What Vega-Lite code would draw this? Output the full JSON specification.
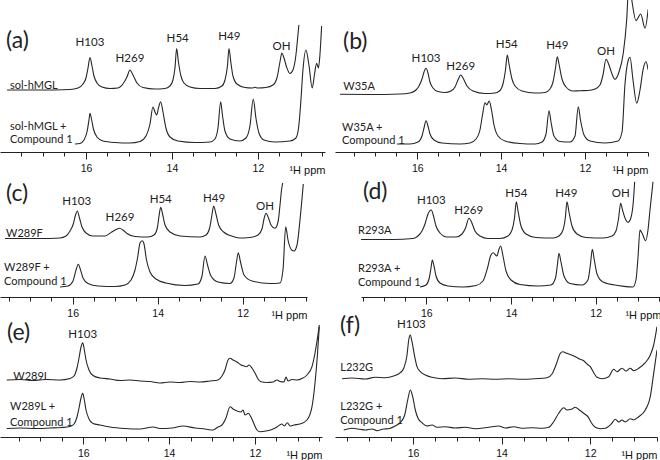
{
"$schema": "https://vega.github.io/schema/vega-lite/v6.json",
"padding": 0,
"background": "white",
"config": {"view": {"stroke": null}, "axis": {"domain": true, "domainColor": "#222", "domainWidth": 1, "ticks": true, "tickColor": "#222", "tickWidth": 1, "labels": true, "labelColor": "#111", "labelFont": "Liberation Sans", "labelFontSize": 10.5, "titleFont": "Liberation Sans", "titleFontSize": 11, "titleFontWeight": "normal", "titleColor": "#111", "grid": false, "zindex": 1}},
"datasets": {
"a": [
{"s":"t","x":17.837,"y":62},{"s":"t","x":17.07,"y":62},{"s":"t","x":16.37,"y":62.5},{"s":"t","x":16.186,"y":64},{"s":"t","x":16.07,"y":68},{"s":"t","x":16.0,"y":74},{"s":"t","x":15.953,"y":84},{"s":"t","x":15.907,"y":94.5},{"s":"t","x":15.86,"y":86},{"s":"t","x":15.814,"y":76},{"s":"t","x":15.744,"y":69},{"s":"t","x":15.628,"y":65},{"s":"t","x":15.442,"y":63.5},{"s":"t","x":15.256,"y":64},{"s":"t","x":15.14,"y":68},{"s":"t","x":15.047,"y":75},{"s":"t","x":14.977,"y":82},{"s":"t","x":14.907,"y":77},{"s":"t","x":14.814,"y":69},{"s":"t","x":14.674,"y":64.5},{"s":"t","x":14.395,"y":63},{"s":"t","x":14.163,"y":63.5},{"s":"t","x":14.047,"y":66},{"s":"t","x":13.977,"y":72},{"s":"t","x":13.93,"y":84},{"s":"t","x":13.891,"y":103.5},{"s":"t","x":13.849,"y":90},{"s":"t","x":13.791,"y":76},{"s":"t","x":13.721,"y":69},{"s":"t","x":13.581,"y":65},{"s":"t","x":13.349,"y":63.5},{"s":"t","x":13.0,"y":63.5},{"s":"t","x":12.837,"y":66},{"s":"t","x":12.767,"y":72},{"s":"t","x":12.709,"y":86},{"s":"t","x":12.674,"y":103.5},{"s":"t","x":12.628,"y":89},{"s":"t","x":12.581,"y":76},{"s":"t","x":12.488,"y":68},{"s":"t","x":12.302,"y":64.5},{"s":"t","x":12.14,"y":64},{"s":"t","x":12.07,"y":64.7},{"s":"t","x":12.0,"y":64},{"s":"t","x":11.814,"y":64.5},{"s":"t","x":11.651,"y":67},{"s":"t","x":11.558,"y":74},{"s":"t","x":11.488,"y":90},{"s":"t","x":11.442,"y":99},{"s":"t","x":11.395,"y":94},{"s":"t","x":11.326,"y":84},{"s":"t","x":11.256,"y":78.5},{"s":"t","x":11.186,"y":82},{"s":"t","x":11.116,"y":97},{"s":"t","x":11.07,"y":117},{"s":"t","x":11.047,"y":127},
{"s":"b","x":16.256,"y":8},{"s":"b","x":16.14,"y":8.5},{"s":"b","x":16.047,"y":12},{"s":"b","x":15.977,"y":20},{"s":"b","x":15.93,"y":32},{"s":"b","x":15.907,"y":38.7},{"s":"b","x":15.872,"y":33},{"s":"b","x":15.826,"y":23},{"s":"b","x":15.744,"y":15},{"s":"b","x":15.605,"y":11},{"s":"b","x":15.326,"y":9.5},{"s":"b","x":14.977,"y":9},{"s":"b","x":14.744,"y":10.5},{"s":"b","x":14.605,"y":16},{"s":"b","x":14.512,"y":28},{"s":"b","x":14.442,"y":45},{"s":"b","x":14.395,"y":40},{"s":"b","x":14.356,"y":37},{"s":"b","x":14.314,"y":44},{"s":"b","x":14.263,"y":50.3},{"s":"b","x":14.209,"y":40},{"s":"b","x":14.14,"y":24},{"s":"b","x":14.047,"y":15},{"s":"b","x":13.86,"y":11},{"s":"b","x":13.465,"y":9.5},{"s":"b","x":13.116,"y":10},{"s":"b","x":13.0,"y":13},{"s":"b","x":12.93,"y":24},{"s":"b","x":12.867,"y":50.3},{"s":"b","x":12.826,"y":37},{"s":"b","x":12.767,"y":21},{"s":"b","x":12.651,"y":13},{"s":"b","x":12.419,"y":11},{"s":"b","x":12.279,"y":14},{"s":"b","x":12.186,"y":26},{"s":"b","x":12.109,"y":53},{"s":"b","x":12.047,"y":34},{"s":"b","x":11.977,"y":19},{"s":"b","x":11.86,"y":12},{"s":"b","x":11.605,"y":10},{"s":"b","x":11.256,"y":11},{"s":"b","x":11.116,"y":14},{"s":"b","x":11.047,"y":27},{"s":"b","x":11.0,"y":52},{"s":"b","x":10.953,"y":82},{"s":"b","x":10.884,"y":102},{"s":"b","x":10.814,"y":87},{"s":"b","x":10.737,"y":64},{"s":"b","x":10.686,"y":77},{"s":"b","x":10.635,"y":88.7},{"s":"b","x":10.593,"y":84},{"s":"b","x":10.558,"y":97},{"s":"b","x":10.519,"y":126}
],
"b": [
{"s":"t","x":17.845,"y":57.7},{"s":"t","x":17.129,"y":57.5},{"s":"t","x":16.413,"y":58},{"s":"t","x":16.174,"y":59},{"s":"t","x":16.031,"y":62},{"s":"t","x":15.959,"y":66},{"s":"t","x":15.888,"y":73},{"s":"t","x":15.84,"y":80},{"s":"t","x":15.792,"y":83.7},{"s":"t","x":15.745,"y":79},{"s":"t","x":15.697,"y":70},{"s":"t","x":15.625,"y":64},{"s":"t","x":15.506,"y":60.5},{"s":"t","x":15.339,"y":59.5},{"s":"t","x":15.196,"y":61},{"s":"t","x":15.1,"y":65},{"s":"t","x":15.029,"y":72},{"s":"t","x":14.964,"y":77},{"s":"t","x":14.909,"y":74},{"s":"t","x":14.814,"y":66},{"s":"t","x":14.671,"y":61},{"s":"t","x":14.384,"y":58.5},{"s":"t","x":14.146,"y":59},{"s":"t","x":14.026,"y":61.5},{"s":"t","x":13.955,"y":68},{"s":"t","x":13.895,"y":82},{"s":"t","x":13.852,"y":97},{"s":"t","x":13.811,"y":88},{"s":"t","x":13.74,"y":73},{"s":"t","x":13.668,"y":66},{"s":"t","x":13.501,"y":61},{"s":"t","x":13.19,"y":59},{"s":"t","x":12.952,"y":59.5},{"s":"t","x":12.833,"y":63},{"s":"t","x":12.761,"y":70},{"s":"t","x":12.702,"y":84},{"s":"t","x":12.659,"y":95.3},{"s":"t","x":12.618,"y":88},{"s":"t","x":12.547,"y":73},{"s":"t","x":12.451,"y":65},{"s":"t","x":12.284,"y":61},{"s":"t","x":12.117,"y":61.3},{"s":"t","x":11.926,"y":61.5},{"s":"t","x":11.759,"y":63},{"s":"t","x":11.64,"y":67},{"s":"t","x":11.568,"y":77},{"s":"t","x":11.496,"y":92.7},{"s":"t","x":11.425,"y":87},{"s":"t","x":11.353,"y":78},{"s":"t","x":11.282,"y":72.7},{"s":"t","x":11.186,"y":80},{"s":"t","x":11.084,"y":98.7},{"s":"t","x":11.003,"y":132},{"s":"t","x":10.962,"y":160},{"s":"t","x":10.909,"y":160},{"s":"t","x":10.874,"y":150},{"s":"t","x":10.78,"y":131.3},{"s":"t","x":10.668,"y":138},{"s":"t","x":10.565,"y":123.7},{"s":"t","x":10.49,"y":142.7},
{"s":"b","x":16.484,"y":8},{"s":"b","x":16.174,"y":8},{"s":"b","x":15.983,"y":10},{"s":"b","x":15.888,"y":16},{"s":"b","x":15.84,"y":24},{"s":"b","x":15.792,"y":31.3},{"s":"b","x":15.745,"y":26},{"s":"b","x":15.697,"y":18},{"s":"b","x":15.601,"y":12},{"s":"b","x":15.41,"y":9},{"s":"b","x":14.981,"y":8},{"s":"b","x":14.742,"y":9},{"s":"b","x":14.599,"y":13},{"s":"b","x":14.504,"y":22},{"s":"b","x":14.444,"y":37},{"s":"b","x":14.384,"y":49.3},{"s":"b","x":14.344,"y":47},{"s":"b","x":14.282,"y":51},{"s":"b","x":14.229,"y":42},{"s":"b","x":14.169,"y":27},{"s":"b","x":14.074,"y":16},{"s":"b","x":13.907,"y":11},{"s":"b","x":13.549,"y":8.5},{"s":"b","x":13.19,"y":8},{"s":"b","x":13.023,"y":10},{"s":"b","x":12.928,"y":18},{"s":"b","x":12.856,"y":41.3},{"s":"b","x":12.809,"y":30},{"s":"b","x":12.737,"y":16},{"s":"b","x":12.594,"y":10.5},{"s":"b","x":12.356,"y":10},{"s":"b","x":12.236,"y":16},{"s":"b","x":12.158,"y":45.3},{"s":"b","x":12.105,"y":32},{"s":"b","x":12.021,"y":17},{"s":"b","x":11.878,"y":11},{"s":"b","x":11.52,"y":9},{"s":"b","x":11.209,"y":11},{"s":"b","x":11.114,"y":20},{"s":"b","x":11.042,"y":68.7},{"s":"b","x":10.963,"y":92},{"s":"b","x":10.923,"y":94.7},{"s":"b","x":10.852,"y":72},{"s":"b","x":10.763,"y":48.7},{"s":"b","x":10.685,"y":62},{"s":"b","x":10.606,"y":83.7},{"s":"b","x":10.542,"y":90.3},{"s":"b","x":10.49,"y":82}
],
"c": [
{"s":"t","x":17.593,"y":58.5},{"s":"t","x":16.769,"y":58.5},{"s":"t","x":16.299,"y":59},{"s":"t","x":16.158,"y":61},{"s":"t","x":16.064,"y":66},{"s":"t","x":15.986,"y":73},{"s":"t","x":15.934,"y":82},{"s":"t","x":15.892,"y":86},{"s":"t","x":15.84,"y":79},{"s":"t","x":15.781,"y":70},{"s":"t","x":15.687,"y":64},{"s":"t","x":15.522,"y":61},{"s":"t","x":15.24,"y":61},{"s":"t","x":15.082,"y":65},{"s":"t","x":14.981,"y":67.5},{"s":"t","x":14.904,"y":68.7},{"s":"t","x":14.816,"y":67},{"s":"t","x":14.722,"y":63.5},{"s":"t","x":14.534,"y":60.5},{"s":"t","x":14.228,"y":60},{"s":"t","x":14.087,"y":62},{"s":"t","x":14.009,"y":69},{"s":"t","x":13.969,"y":81},{"s":"t","x":13.929,"y":89.7},{"s":"t","x":13.886,"y":83},{"s":"t","x":13.828,"y":72},{"s":"t","x":13.711,"y":65},{"s":"t","x":13.475,"y":61},{"s":"t","x":13.005,"y":60},{"s":"t","x":12.864,"y":62},{"s":"t","x":12.778,"y":69},{"s":"t","x":12.731,"y":80},{"s":"t","x":12.684,"y":91},{"s":"t","x":12.635,"y":84},{"s":"t","x":12.567,"y":72},{"s":"t","x":12.449,"y":65},{"s":"t","x":12.261,"y":61},{"s":"t","x":12.073,"y":59},{"s":"t","x":11.838,"y":59.5},{"s":"t","x":11.64,"y":62},{"s":"t","x":11.546,"y":68},{"s":"t","x":11.499,"y":78},{"s":"t","x":11.452,"y":83.7},{"s":"t","x":11.393,"y":79},{"s":"t","x":11.334,"y":72},{"s":"t","x":11.24,"y":68.7},{"s":"t","x":11.169,"y":75},{"s":"t","x":11.122,"y":92},{"s":"t","x":11.087,"y":107},{"s":"t","x":11.059,"y":114},
{"s":"b","x":16.299,"y":10},{"s":"b","x":16.111,"y":11},{"s":"b","x":15.993,"y":16},{"s":"b","x":15.922,"y":27},{"s":"b","x":15.868,"y":32.7},{"s":"b","x":15.816,"y":27},{"s":"b","x":15.758,"y":19},{"s":"b","x":15.64,"y":13.5},{"s":"b","x":15.405,"y":11},{"s":"b","x":15.005,"y":10.5},{"s":"b","x":14.769,"y":12},{"s":"b","x":14.628,"y":17},{"s":"b","x":14.534,"y":27},{"s":"b","x":14.475,"y":39},{"s":"b","x":14.416,"y":54},{"s":"b","x":14.362,"y":56.3},{"s":"b","x":14.322,"y":53},{"s":"b","x":14.264,"y":37},{"s":"b","x":14.181,"y":25},{"s":"b","x":14.04,"y":18},{"s":"b","x":13.805,"y":14},{"s":"b","x":13.358,"y":11.5},{"s":"b","x":13.052,"y":13},{"s":"b","x":12.958,"y":21},{"s":"b","x":12.887,"y":41},{"s":"b","x":12.828,"y":32},{"s":"b","x":12.746,"y":21},{"s":"b","x":12.581,"y":15},{"s":"b","x":12.299,"y":13.5},{"s":"b","x":12.205,"y":19},{"s":"b","x":12.146,"y":35},{"s":"b","x":12.104,"y":44.3},{"s":"b","x":12.052,"y":35},{"s":"b","x":11.969,"y":22},{"s":"b","x":11.781,"y":16},{"s":"b","x":11.358,"y":13.5},{"s":"b","x":11.122,"y":14},{"s":"b","x":11.052,"y":27},{"s":"b","x":10.988,"y":70.3},{"s":"b","x":10.934,"y":57},{"s":"b","x":10.847,"y":47},{"s":"b","x":10.793,"y":46},{"s":"b","x":10.722,"y":52},{"s":"b","x":10.652,"y":77},{"s":"b","x":10.574,"y":113}
],
"d": [
{"s":"t","x":17.542,"y":57.5},{"s":"t","x":16.786,"y":57.5},{"s":"t","x":16.314,"y":58.5},{"s":"t","x":16.196,"y":61},{"s":"t","x":16.102,"y":66},{"s":"t","x":16.031,"y":73},{"s":"t","x":15.96,"y":83},{"s":"t","x":15.882,"y":87},{"s":"t","x":15.83,"y":81},{"s":"t","x":15.771,"y":71},{"s":"t","x":15.677,"y":64},{"s":"t","x":15.511,"y":60},{"s":"t","x":15.299,"y":60},{"s":"t","x":15.157,"y":63},{"s":"t","x":15.074,"y":69},{"s":"t","x":14.992,"y":78.7},{"s":"t","x":14.933,"y":75},{"s":"t","x":14.85,"y":66},{"s":"t","x":14.732,"y":61},{"s":"t","x":14.543,"y":58.5},{"s":"t","x":14.26,"y":58.5},{"s":"t","x":14.071,"y":61},{"s":"t","x":13.976,"y":67},{"s":"t","x":13.917,"y":79},{"s":"t","x":13.875,"y":95.3},{"s":"t","x":13.83,"y":85},{"s":"t","x":13.764,"y":71},{"s":"t","x":13.646,"y":63},{"s":"t","x":13.41,"y":59.5},{"s":"t","x":13.008,"y":59},{"s":"t","x":12.867,"y":61},{"s":"t","x":12.772,"y":67},{"s":"t","x":12.718,"y":79},{"s":"t","x":12.678,"y":95.3},{"s":"t","x":12.631,"y":85},{"s":"t","x":12.56,"y":71},{"s":"t","x":12.442,"y":63},{"s":"t","x":12.229,"y":59.5},{"s":"t","x":11.828,"y":59},{"s":"t","x":11.615,"y":61},{"s":"t","x":11.521,"y":66},{"s":"t","x":11.462,"y":78},{"s":"t","x":11.41,"y":93.7},{"s":"t","x":11.367,"y":87},{"s":"t","x":11.308,"y":79},{"s":"t","x":11.237,"y":74.7},{"s":"t","x":11.178,"y":78},{"s":"t","x":11.119,"y":92},{"s":"t","x":11.079,"y":115.3},
{"s":"b","x":16.149,"y":10},{"s":"b","x":16.007,"y":12},{"s":"b","x":15.936,"y":18},{"s":"b","x":15.889,"y":29},{"s":"b","x":15.858,"y":37},{"s":"b","x":15.818,"y":31},{"s":"b","x":15.771,"y":21},{"s":"b","x":15.677,"y":14},{"s":"b","x":15.488,"y":11},{"s":"b","x":15.134,"y":10},{"s":"b","x":14.827,"y":11.5},{"s":"b","x":14.661,"y":16},{"s":"b","x":14.555,"y":29},{"s":"b","x":14.484,"y":41},{"s":"b","x":14.425,"y":44.3},{"s":"b","x":14.331,"y":41},{"s":"b","x":14.283,"y":48},{"s":"b","x":14.243,"y":51},{"s":"b","x":14.189,"y":41},{"s":"b","x":14.118,"y":26},{"s":"b","x":14.0,"y":17},{"s":"b","x":13.788,"y":12.5},{"s":"b","x":13.362,"y":11},{"s":"b","x":13.056,"y":12},{"s":"b","x":12.949,"y":19},{"s":"b","x":12.902,"y":33},{"s":"b","x":12.867,"y":43.7},{"s":"b","x":12.82,"y":35},{"s":"b","x":12.749,"y":21},{"s":"b","x":12.607,"y":13.5},{"s":"b","x":12.324,"y":12},{"s":"b","x":12.183,"y":17},{"s":"b","x":12.123,"y":33},{"s":"b","x":12.08,"y":47.7},{"s":"b","x":12.033,"y":37},{"s":"b","x":11.969,"y":23},{"s":"b","x":11.828,"y":15},{"s":"b","x":11.474,"y":11.5},{"s":"b","x":11.12,"y":10},{"s":"b","x":11.049,"y":17},{"s":"b","x":11.002,"y":39},{"s":"b","x":10.954,"y":67},{"s":"b","x":10.907,"y":64},{"s":"b","x":10.82,"y":56.3},{"s":"b","x":10.765,"y":67},{"s":"b","x":10.718,"y":87},{"s":"b","x":10.647,"y":115.3}
],
"e": [
{"s":"t","x":17.786,"y":57},{"s":"t","x":17.476,"y":57.5},{"s":"t","x":17.172,"y":56.5},{"s":"t","x":16.869,"y":57.5},{"s":"t","x":16.543,"y":57},{"s":"t","x":16.31,"y":58.5},{"s":"t","x":16.217,"y":61},{"s":"t","x":16.147,"y":69},{"s":"t","x":16.1,"y":79},{"s":"t","x":16.054,"y":90},{"s":"t","x":16.014,"y":94.3},{"s":"t","x":15.984,"y":89},{"s":"t","x":15.937,"y":77},{"s":"t","x":15.867,"y":67},{"s":"t","x":15.774,"y":61.5},{"s":"t","x":15.611,"y":59},{"s":"t","x":15.378,"y":58},{"s":"t","x":15.145,"y":56.5},{"s":"t","x":14.911,"y":57},{"s":"t","x":14.678,"y":56},{"s":"t","x":14.445,"y":55.5},{"s":"t","x":14.212,"y":54},{"s":"t","x":13.979,"y":55},{"s":"t","x":13.746,"y":54.5},{"s":"t","x":13.513,"y":55.5},{"s":"t","x":13.28,"y":55},{"s":"t","x":13.047,"y":56},{"s":"t","x":12.86,"y":57},{"s":"t","x":12.767,"y":61},{"s":"t","x":12.697,"y":67},{"s":"t","x":12.627,"y":77},{"s":"t","x":12.58,"y":78.7},{"s":"t","x":12.51,"y":77},{"s":"t","x":12.417,"y":75},{"s":"t","x":12.324,"y":72},{"s":"t","x":12.254,"y":71},{"s":"t","x":12.191,"y":70.3},{"s":"t","x":12.138,"y":72},{"s":"t","x":12.068,"y":69},{"s":"t","x":11.998,"y":64},{"s":"t","x":11.928,"y":58},{"s":"t","x":11.858,"y":55.3},{"s":"t","x":11.718,"y":54.5},{"s":"t","x":11.579,"y":55},{"s":"t","x":11.485,"y":57},{"s":"t","x":11.415,"y":55.5},{"s":"t","x":11.322,"y":55},{"s":"t","x":11.276,"y":60},{"s":"t","x":11.229,"y":56},{"s":"t","x":11.136,"y":57.5},{"s":"t","x":11.019,"y":57},{"s":"t","x":10.903,"y":58.5},{"s":"t","x":10.786,"y":62},{"s":"t","x":10.669,"y":70.3},{"s":"t","x":10.599,"y":84},{"s":"t","x":10.536,"y":100.3},{"s":"t","x":10.499,"y":112},
{"s":"b","x":17.786,"y":8.5},{"s":"b","x":17.476,"y":9},{"s":"b","x":17.126,"y":8.5},{"s":"b","x":16.776,"y":9},{"s":"b","x":16.497,"y":9.5},{"s":"b","x":16.31,"y":10.5},{"s":"b","x":16.217,"y":13},{"s":"b","x":16.147,"y":20},{"s":"b","x":16.1,"y":29},{"s":"b","x":16.054,"y":39},{"s":"b","x":16.014,"y":43.7},{"s":"b","x":15.984,"y":39},{"s":"b","x":15.937,"y":27},{"s":"b","x":15.867,"y":18},{"s":"b","x":15.774,"y":13.5},{"s":"b","x":15.611,"y":12},{"s":"b","x":15.378,"y":10},{"s":"b","x":15.028,"y":8.5},{"s":"b","x":14.678,"y":8},{"s":"b","x":14.375,"y":10},{"s":"b","x":14.212,"y":8.5},{"s":"b","x":13.932,"y":9},{"s":"b","x":13.676,"y":11},{"s":"b","x":13.396,"y":9},{"s":"b","x":13.163,"y":8},{"s":"b","x":12.976,"y":7},{"s":"b","x":12.86,"y":10},{"s":"b","x":12.767,"y":12},{"s":"b","x":12.674,"y":19},{"s":"b","x":12.58,"y":30.3},{"s":"b","x":12.51,"y":28},{"s":"b","x":12.417,"y":26},{"s":"b","x":12.324,"y":25},{"s":"b","x":12.277,"y":27},{"s":"b","x":12.231,"y":22},{"s":"b","x":12.154,"y":23.7},{"s":"b","x":12.091,"y":20},{"s":"b","x":12.021,"y":13},{"s":"b","x":11.951,"y":7},{"s":"b","x":11.881,"y":5.3},{"s":"b","x":11.741,"y":6},{"s":"b","x":11.601,"y":7.5},{"s":"b","x":11.485,"y":10},{"s":"b","x":11.375,"y":13},{"s":"b","x":11.31,"y":11},{"s":"b","x":11.245,"y":14.3},{"s":"b","x":11.182,"y":11},{"s":"b","x":11.089,"y":12},{"s":"b","x":10.949,"y":13},{"s":"b","x":10.786,"y":17},{"s":"b","x":10.669,"y":30.3},{"s":"b","x":10.599,"y":54},{"s":"b","x":10.546,"y":80.3},{"s":"b","x":10.499,"y":110.3}
],
"f": [
{"s":"t","x":17.603,"y":58.3},{"s":"t","x":17.377,"y":59},{"s":"t","x":17.077,"y":58},{"s":"t","x":16.851,"y":59.7},{"s":"t","x":16.625,"y":59.3},{"s":"t","x":16.436,"y":61},{"s":"t","x":16.287,"y":64.3},{"s":"t","x":16.21,"y":68.7},{"s":"t","x":16.135,"y":82},{"s":"t","x":16.097,"y":97},{"s":"t","x":16.061,"y":102},{"s":"t","x":16.023,"y":95.3},{"s":"t","x":15.962,"y":80.3},{"s":"t","x":15.91,"y":70.3},{"s":"t","x":15.835,"y":65.3},{"s":"t","x":15.722,"y":62},{"s":"t","x":15.571,"y":59.7},{"s":"t","x":15.345,"y":58.3},{"s":"t","x":15.045,"y":59},{"s":"t","x":14.743,"y":57.7},{"s":"t","x":14.442,"y":58.3},{"s":"t","x":14.142,"y":57.7},{"s":"t","x":13.84,"y":58.3},{"s":"t","x":13.539,"y":57.7},{"s":"t","x":13.239,"y":58.3},{"s":"t","x":12.975,"y":59.3},{"s":"t","x":12.862,"y":63},{"s":"t","x":12.772,"y":72},{"s":"t","x":12.675,"y":83.7},{"s":"t","x":12.621,"y":85.3},{"s":"t","x":12.524,"y":83.7},{"s":"t","x":12.411,"y":81.7},{"s":"t","x":12.314,"y":79.7},{"s":"t","x":12.223,"y":77.7},{"s":"t","x":12.147,"y":76.3},{"s":"t","x":12.072,"y":73},{"s":"t","x":11.998,"y":70.3},{"s":"t","x":11.921,"y":64.3},{"s":"t","x":11.847,"y":59.7},{"s":"t","x":11.734,"y":58.3},{"s":"t","x":11.582,"y":60.3},{"s":"t","x":11.47,"y":67.7},{"s":"t","x":11.395,"y":65.3},{"s":"t","x":11.282,"y":68.7},{"s":"t","x":11.192,"y":66},{"s":"t","x":11.095,"y":68.7},{"s":"t","x":11.018,"y":66.3},{"s":"t","x":10.905,"y":68.7},{"s":"t","x":10.756,"y":74.3},{"s":"t","x":10.643,"y":82},{"s":"t","x":10.567,"y":92},{"s":"t","x":10.492,"y":110.3},
{"s":"b","x":17.564,"y":7},{"s":"b","x":17.377,"y":8.7},{"s":"b","x":17.19,"y":7.7},{"s":"b","x":17.077,"y":7},{"s":"b","x":16.926,"y":8},{"s":"b","x":16.813,"y":6.3},{"s":"b","x":16.661,"y":8},{"s":"b","x":16.549,"y":8.3},{"s":"b","x":16.4,"y":11},{"s":"b","x":16.287,"y":14.3},{"s":"b","x":16.187,"y":22},{"s":"b","x":16.12,"y":37},{"s":"b","x":16.061,"y":47},{"s":"b","x":16.007,"y":40.3},{"s":"b","x":15.948,"y":27},{"s":"b","x":15.887,"y":18.7},{"s":"b","x":15.797,"y":14.3},{"s":"b","x":15.684,"y":11},{"s":"b","x":15.571,"y":12},{"s":"b","x":15.458,"y":9.7},{"s":"b","x":15.271,"y":10.3},{"s":"b","x":15.045,"y":9},{"s":"b","x":14.819,"y":9.7},{"s":"b","x":14.594,"y":8.3},{"s":"b","x":14.291,"y":9.7},{"s":"b","x":14.065,"y":11},{"s":"b","x":13.916,"y":9},{"s":"b","x":13.727,"y":10.3},{"s":"b","x":13.539,"y":8.7},{"s":"b","x":13.314,"y":9.3},{"s":"b","x":13.088,"y":8.7},{"s":"b","x":12.937,"y":9.7},{"s":"b","x":12.824,"y":15.3},{"s":"b","x":12.711,"y":23.7},{"s":"b","x":12.598,"y":29.3},{"s":"b","x":12.524,"y":27},{"s":"b","x":12.427,"y":27.7},{"s":"b","x":12.336,"y":29.7},{"s":"b","x":12.246,"y":27},{"s":"b","x":12.147,"y":23.7},{"s":"b","x":12.05,"y":20.3},{"s":"b","x":11.975,"y":14.3},{"s":"b","x":11.885,"y":9.7},{"s":"b","x":11.772,"y":8.3},{"s":"b","x":11.659,"y":8.7},{"s":"b","x":11.524,"y":13},{"s":"b","x":11.433,"y":17.7},{"s":"b","x":11.357,"y":15},{"s":"b","x":11.282,"y":17},{"s":"b","x":11.208,"y":15},{"s":"b","x":11.095,"y":18.3},{"s":"b","x":11.018,"y":17},{"s":"b","x":10.905,"y":20.3},{"s":"b","x":10.756,"y":27},{"s":"b","x":10.643,"y":40.3},{"s":"b","x":10.567,"y":63.7},{"s":"b","x":10.492,"y":87}
],
"lab": [
{"p":"a","k":"panel","x":17.86,"y":111,"t":"(a)"},{"p":"a","k":"peak","x":15.907,"y":108.7,"t":"H103"},{"p":"a","k":"peak","x":14.977,"y":92.7,"t":"H269"},{"p":"a","k":"peak","x":13.867,"y":112.7,"t":"H54"},{"p":"a","k":"peak","x":12.667,"y":115.3,"t":"H49"},{"p":"a","k":"peak","x":11.449,"y":105.3,"t":"OH"},{"p":"a","k":"sample","x":17.767,"y":66,"t":"sol-hMGL"},{"p":"a","k":"sample","x":17.767,"y":25.3,"t":"sol-hMGL +"},{"p":"a","k":"sample","x":17.767,"y":12,"t":"Compound 1"},
{"p":"b","k":"panel","x":17.773,"y":110.3,"t":"(b)"},{"p":"b","k":"peak","x":15.792,"y":92.7,"t":"H103"},{"p":"b","k":"peak","x":14.964,"y":85.3,"t":"H269"},{"p":"b","k":"peak","x":13.866,"y":107,"t":"H54"},{"p":"b","k":"peak","x":12.659,"y":106,"t":"H49"},{"p":"b","k":"peak","x":11.496,"y":100.3,"t":"OH"},{"p":"b","k":"sample","x":17.766,"y":64.7,"t":"W35A"},{"p":"b","k":"sample","x":17.797,"y":23.7,"t":"W35A +"},{"p":"b","k":"sample","x":17.797,"y":11,"t":"Compound 1"},
{"p":"c","k":"panel","x":17.569,"y":103,"t":"(c)"},{"p":"c","k":"peak","x":15.906,"y":95.3,"t":"H103"},{"p":"c","k":"peak","x":14.887,"y":78.7,"t":"H269"},{"p":"c","k":"peak","x":13.929,"y":97,"t":"H54"},{"p":"c","k":"peak","x":12.675,"y":97.7,"t":"H49"},{"p":"c","k":"peak","x":11.475,"y":90.3,"t":"OH"},{"p":"c","k":"sample","x":17.569,"y":62.7,"t":"W289F"},{"p":"c","k":"sample","x":17.616,"y":28.7,"t":"W289F +"},{"p":"c","k":"sample","x":17.616,"y":15.3,"t":"Compound 1"},
{"p":"d","k":"panel","x":17.495,"y":105,"t":"(d)"},{"p":"d","k":"peak","x":15.882,"y":96.3,"t":"H103"},{"p":"d","k":"peak","x":14.999,"y":86.3,"t":"H269"},{"p":"d","k":"peak","x":13.875,"y":103,"t":"H54"},{"p":"d","k":"peak","x":12.694,"y":103,"t":"H49"},{"p":"d","k":"peak","x":11.41,"y":102.7,"t":"OH"},{"p":"d","k":"sample","x":17.613,"y":66,"t":"R293A"},{"p":"d","k":"sample","x":17.613,"y":28,"t":"R293A +"},{"p":"d","k":"sample","x":17.613,"y":14.3,"t":"Compound 1"},
{"p":"e","k":"panel","x":17.779,"y":104.5,"t":"(e)"},{"p":"e","k":"peak","x":16.014,"y":102,"t":"H103"},{"p":"e","k":"sample","x":17.632,"y":60.3,"t":"W289L"},{"p":"e","k":"sample","x":17.709,"y":29.7,"t":"W289L +"},{"p":"e","k":"sample","x":17.709,"y":14.3,"t":"Compound 1"},
{"p":"f","k":"panel","x":17.648,"y":111,"t":"(f)"},{"p":"f","k":"peak","x":16.038,"y":112,"t":"H103"},{"p":"f","k":"sample","x":17.641,"y":68.7,"t":"L232G"},{"p":"f","k":"sample","x":17.641,"y":29.7,"t":"L232G +"},{"p":"f","k":"sample","x":17.641,"y":16.3,"t":"Compound 1"}
]
},
"columns": 2,
"align": "none",
"bounds": "flush",
"spacing": {"row": 10, "column": 10},
"concat": [
{"width": 325, "height": 152,
 "encoding": {"x": {"field": "x", "type": "quantitative", "scale": {"domain": [18.0, 10.44], "nice": false, "zero": false}, "axis": {"values": [17.5,17,16.5,16,15.5,15,14.5,14,13.5,13,12.5,12,11.5,11,10.5], "labelExpr": "datum.value % 2 === 0 ? '' + datum.value : ''", "tickSize": {"condition": {"test": "datum.value % 2 === 0", "value": 7}, "value": 4}, "labelPadding": 4, "labelOverlap": false, "labelFlush": false, "title": "¹H ppm", "titleAnchor": "end", "titleAlign": "right", "titleBaseline": "top", "titleY": 12}},
  "y": {"field": "y", "type": "quantitative", "scale": {"domain": [0, 152], "nice": false, "zero": false}, "axis": null}},
 "layer": [
  {"data": {"name": "a"}, "mark": {"type": "line", "interpolate": "monotone", "clip": true, "stroke": "#262626", "strokeWidth": 1.1}, "encoding": {"detail": {"field": "s", "type": "nominal"}}},
  {"data": {"name": "lab"}, "transform": [{"filter": "datum.p == 'a' && datum.k != 'peak'"}], "mark": {"type": "text", "align": "left", "baseline": "middle", "font": "Lato", "color": "#222"}, "encoding": {"text": {"field": "t"}, "size": {"field": "k", "type": "nominal", "scale": {"domain": ["panel", "sample"], "range": [23, 11]}, "legend": null}}},
  {"data": {"name": "lab"}, "transform": [{"filter": "datum.p == 'a' && datum.k == 'peak'"}], "mark": {"type": "text", "align": "center", "baseline": "middle", "font": "Lato", "fontSize": 11.5, "color": "#222"}, "encoding": {"text": {"field": "t"}}}
 ]},
{"width": 313, "height": 152,
 "encoding": {"x": {"field": "x", "type": "quantitative", "scale": {"domain": [17.964, 10.494], "nice": false, "zero": false}, "axis": {"values": [17.5,17,16.5,16,15.5,15,14.5,14,13.5,13,12.5,12,11.5,11,10.5], "labelExpr": "datum.value % 2 === 0 ? '' + datum.value : ''", "tickSize": {"condition": {"test": "datum.value % 2 === 0", "value": 7}, "value": 4}, "labelPadding": 4, "labelOverlap": false, "labelFlush": false, "title": "¹H ppm", "titleAnchor": "end", "titleAlign": "right", "titleBaseline": "top", "titleY": 12}},
  "y": {"field": "y", "type": "quantitative", "scale": {"domain": [0, 152], "nice": false, "zero": false}, "axis": null}},
 "layer": [
  {"data": {"name": "b"}, "mark": {"type": "line", "interpolate": "monotone", "clip": true, "stroke": "#262626", "strokeWidth": 1.1}, "encoding": {"detail": {"field": "s", "type": "nominal"}}},
  {"data": {"name": "lab"}, "transform": [{"filter": "datum.p == 'b' && datum.k != 'peak'"}], "mark": {"type": "text", "align": "left", "baseline": "middle", "font": "Lato", "color": "#222"}, "encoding": {"text": {"field": "t"}, "size": {"field": "k", "type": "nominal", "scale": {"domain": ["panel", "sample"], "range": [23, 11]}, "legend": null}}},
  {"data": {"name": "lab"}, "transform": [{"filter": "datum.p == 'b' && datum.k == 'peak'"}], "mark": {"type": "text", "align": "center", "baseline": "middle", "font": "Lato", "fontSize": 11.5, "color": "#222"}, "encoding": {"text": {"field": "t"}}}
 ]},
{"width": 307, "height": 135,
 "encoding": {"x": {"field": "x", "type": "quantitative", "scale": {"domain": [17.711, 10.487], "nice": false, "zero": false}, "axis": {"values": [17.5,17,16.5,16,15.5,15,14.5,14,13.5,13,12.5,12,11.5,11,10.5], "labelExpr": "datum.value % 2 === 0 ? '' + datum.value : ''", "tickSize": {"condition": {"test": "datum.value % 2 === 0", "value": 7}, "value": 4}, "labelPadding": 4, "labelOverlap": false, "labelFlush": false, "title": "¹H ppm", "titleAnchor": "end", "titleAlign": "right", "titleBaseline": "top", "titleY": 12}},
  "y": {"field": "y", "type": "quantitative", "scale": {"domain": [0, 135], "nice": false, "zero": false}, "axis": null}},
 "layer": [
  {"data": {"name": "c"}, "mark": {"type": "line", "interpolate": "monotone", "clip": true, "stroke": "#262626", "strokeWidth": 1.1}, "encoding": {"detail": {"field": "s", "type": "nominal"}}},
  {"data": {"name": "lab"}, "transform": [{"filter": "datum.p == 'c' && datum.k != 'peak'"}], "mark": {"type": "text", "align": "left", "baseline": "middle", "font": "Lato", "color": "#222"}, "encoding": {"text": {"field": "t"}, "size": {"field": "k", "type": "nominal", "scale": {"domain": ["panel", "sample"], "range": [23, 11]}, "legend": null}}},
  {"data": {"name": "lab"}, "transform": [{"filter": "datum.p == 'c' && datum.k == 'peak'"}], "mark": {"type": "text", "align": "center", "baseline": "middle", "font": "Lato", "fontSize": 11.5, "color": "#222"}, "encoding": {"text": {"field": "t"}}}
 ]},
{"width": 326, "height": 135,
 "encoding": {"x": {"field": "x", "type": "quantitative", "scale": {"domain": [17.542, 10.458], "range": [26, 326], "nice": false, "zero": false}, "axis": {"values": [17.5,17,16.5,16,15.5,15,14.5,14,13.5,13,12.5,12,11.5,11,10.5], "labelExpr": "datum.value % 2 === 0 ? '' + datum.value : ''", "tickSize": {"condition": {"test": "datum.value % 2 === 0", "value": 7}, "value": 4}, "labelPadding": 4, "labelOverlap": false, "labelFlush": false, "title": "¹H ppm", "titleAnchor": "end", "titleAlign": "right", "titleBaseline": "top", "titleY": 12}},
  "y": {"field": "y", "type": "quantitative", "scale": {"domain": [0, 135], "nice": false, "zero": false}, "axis": null}},
 "layer": [
  {"data": {"name": "d"}, "mark": {"type": "line", "interpolate": "monotone", "clip": true, "stroke": "#262626", "strokeWidth": 1.1}, "encoding": {"detail": {"field": "s", "type": "nominal"}}},
  {"data": {"name": "lab"}, "transform": [{"filter": "datum.p == 'd' && datum.k != 'peak'"}], "mark": {"type": "text", "align": "left", "baseline": "middle", "font": "Lato", "color": "#222"}, "encoding": {"text": {"field": "t"}, "size": {"field": "k", "type": "nominal", "scale": {"domain": ["panel", "sample"], "range": [23, 11]}, "legend": null}}},
  {"data": {"name": "lab"}, "transform": [{"filter": "datum.p == 'd' && datum.k == 'peak'"}], "mark": {"type": "text", "align": "center", "baseline": "middle", "font": "Lato", "fontSize": 11.5, "color": "#222"}, "encoding": {"text": {"field": "t"}}}
 ]},
{"width": 322, "height": 130,
 "encoding": {"x": {"field": "x", "type": "quantitative", "scale": {"domain": [17.942, 10.436], "nice": false, "zero": false}, "axis": {"values": [17.5,17,16.5,16,15.5,15,14.5,14,13.5,13,12.5,12,11.5,11,10.5], "labelExpr": "datum.value % 2 === 0 ? '' + datum.value : ''", "tickSize": {"condition": {"test": "datum.value % 2 === 0", "value": 7}, "value": 4}, "labelPadding": 4, "labelOverlap": false, "labelFlush": false, "title": "¹H ppm", "titleAnchor": "end", "titleAlign": "right", "titleBaseline": "top", "titleY": 12}},
  "y": {"field": "y", "type": "quantitative", "scale": {"domain": [0, 130], "nice": false, "zero": false}, "axis": null}},
 "layer": [
  {"data": {"name": "e"}, "mark": {"type": "line", "interpolate": "monotone", "clip": true, "stroke": "#262626", "strokeWidth": 1.1}, "encoding": {"detail": {"field": "s", "type": "nominal"}}},
  {"data": {"name": "lab"}, "transform": [{"filter": "datum.p == 'e' && datum.k != 'peak'"}], "mark": {"type": "text", "align": "left", "baseline": "middle", "font": "Lato", "color": "#222"}, "encoding": {"text": {"field": "t"}, "size": {"field": "k", "type": "nominal", "scale": {"domain": ["panel", "sample"], "range": [23, 11]}, "legend": null}}},
  {"data": {"name": "lab"}, "transform": [{"filter": "datum.p == 'e' && datum.k == 'peak'"}], "mark": {"type": "text", "align": "center", "baseline": "middle", "font": "Lato", "fontSize": 11.5, "color": "#222"}, "encoding": {"text": {"field": "t"}}}
 ]},
{"width": 322, "height": 130,
 "encoding": {"x": {"field": "x", "type": "quantitative", "scale": {"domain": [17.761, 10.492], "nice": false, "zero": false}, "axis": {"values": [17.5,17,16.5,16,15.5,15,14.5,14,13.5,13,12.5,12,11.5,11,10.5], "labelExpr": "datum.value % 2 === 0 ? '' + datum.value : ''", "tickSize": {"condition": {"test": "datum.value % 2 === 0", "value": 7}, "value": 4}, "labelPadding": 4, "labelOverlap": false, "labelFlush": false, "title": "¹H ppm", "titleAnchor": "end", "titleAlign": "right", "titleBaseline": "top", "titleY": 12}},
  "y": {"field": "y", "type": "quantitative", "scale": {"domain": [0, 130], "nice": false, "zero": false}, "axis": null}},
 "layer": [
  {"data": {"name": "f"}, "mark": {"type": "line", "interpolate": "monotone", "clip": true, "stroke": "#262626", "strokeWidth": 1.1}, "encoding": {"detail": {"field": "s", "type": "nominal"}}},
  {"data": {"name": "lab"}, "transform": [{"filter": "datum.p == 'f' && datum.k != 'peak'"}], "mark": {"type": "text", "align": "left", "baseline": "middle", "font": "Lato", "color": "#222"}, "encoding": {"text": {"field": "t"}, "size": {"field": "k", "type": "nominal", "scale": {"domain": ["panel", "sample"], "range": [23, 11]}, "legend": null}}},
  {"data": {"name": "lab"}, "transform": [{"filter": "datum.p == 'f' && datum.k == 'peak'"}], "mark": {"type": "text", "align": "center", "baseline": "middle", "font": "Lato", "fontSize": 11.5, "color": "#222"}, "encoding": {"text": {"field": "t"}}}
 ]}
]
}
